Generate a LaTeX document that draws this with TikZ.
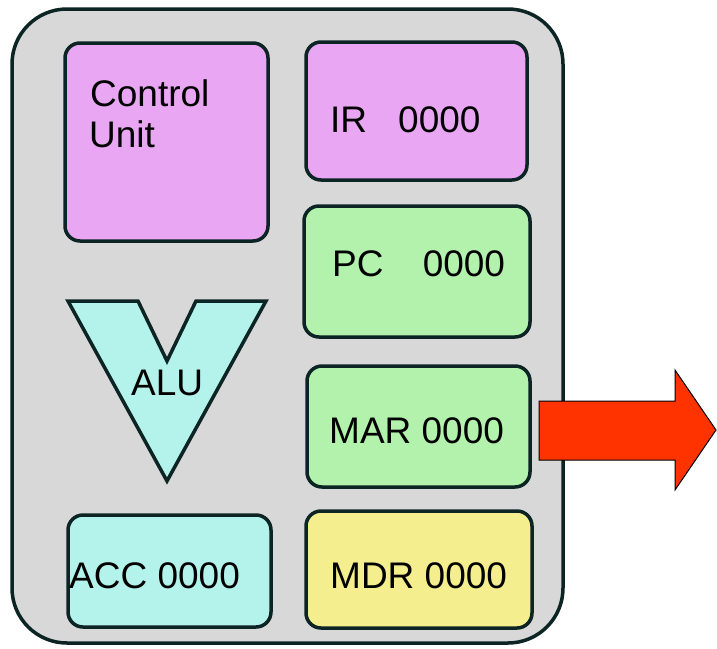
\documentclass[tikz,border=0pt]{standalone}
\usepackage{fontspec}
\setmainfont{Liberation Sans}
\definecolor{outerfill}{HTML}{D8D8D8}
\definecolor{edge}{HTML}{0C2424}
\definecolor{pinkfill}{HTML}{E9A7F3}
\definecolor{greenfill}{HTML}{B2F2AC}
\definecolor{cyanfill}{HTML}{B3F3EC}
\definecolor{yellowfill}{HTML}{F4EE8E}
\definecolor{arrowred}{HTML}{FF3300}
\begin{document}
\begin{tikzpicture}[x=1pt,y=-1pt,
  regbox/.style={draw=edge,line width=3.5pt,rounded corners=15pt,inner sep=0pt},
  lbl/.style={anchor=base west,inner sep=0pt,font=\fontsize{37}{41}\selectfont,text=black}]
\useasboundingbox (0,0) rectangle (717,648);
\fill[white] (0,0) rectangle (717,648);
% outer case
\draw[draw=edge,fill=outerfill,line width=3.5pt,rounded corners=55pt] (12,9) rectangle (563,643);
% boxes
\draw[regbox,fill=pinkfill] (65,43) rectangle (268,241);
\draw[regbox,fill=pinkfill] (306,42) rectangle (527,180);
\draw[regbox,fill=greenfill] (304,206) rectangle (530,337);
\draw[regbox,fill=greenfill] (307,366) rectangle (530,487);
\draw[regbox,fill=cyanfill] (68,515) rectangle (271,627);
\draw[regbox,fill=yellowfill] (306,511) rectangle (532,628);
% ALU
\draw[draw=edge,fill=cyanfill,line width=3.5pt,line join=miter]
  (68,301) -- (138,301) -- (167,361) -- (196,301) -- (266,301) -- (167,481) -- cycle;
% arrow
\draw[draw=black,fill=arrowred,line width=1pt]
  (539,401) -- (675,401) -- (675,370) -- (716,430) -- (675,490) -- (675,460) -- (539,460) -- cycle;
% labels
\node[lbl] (cu1) at (90,106) {Control};
\node[lbl] (cu2) at (89,147) {Unit};
\node[lbl] (ir) at (330,132) {IR\hspace{0.84em}0000};
\node[lbl] (pc) at (332,276) {PC\hspace{1.06em}0000};
\node[lbl] (mar) at (329,443) {MAR 0000};
\node[lbl] (mdr) at (330,588) {MDR 0000};
\node[lbl] (acc) at (69,588) {ACC 0000};
\node[lbl] (alu) at (131,395) {ALU};
\end{tikzpicture}
\end{document}
